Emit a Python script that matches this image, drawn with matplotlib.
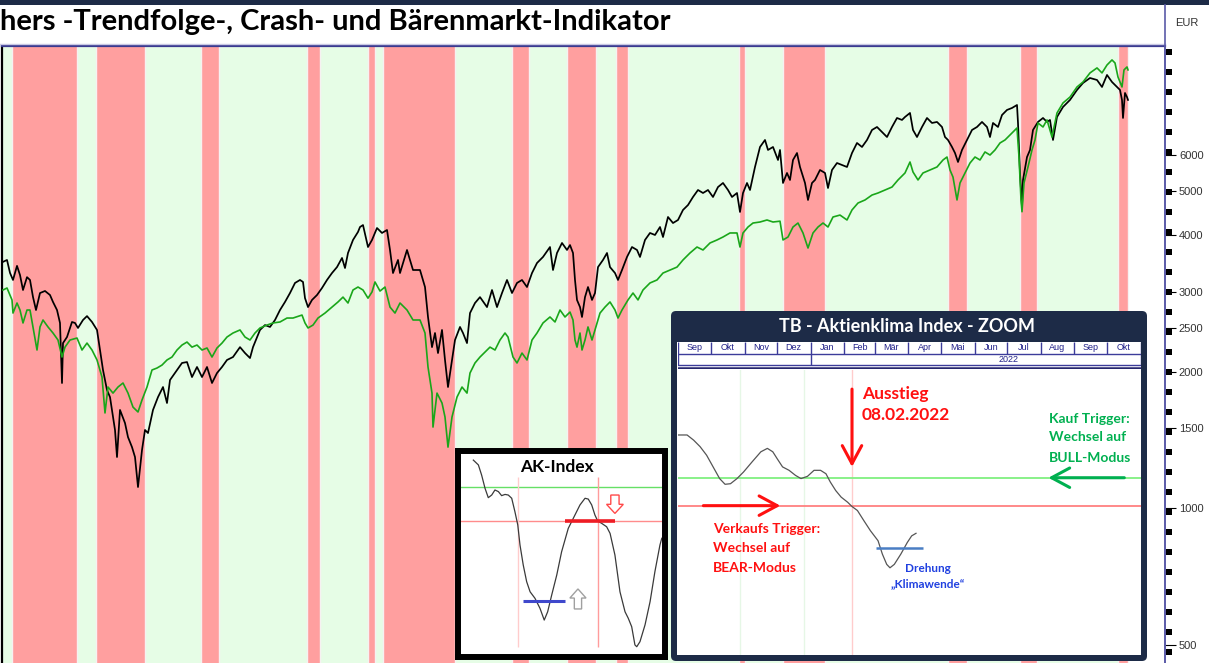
import matplotlib
matplotlib.use("Agg")
import matplotlib.pyplot as plt
import numpy as np
from matplotlib.patches import Rectangle, FancyBboxPatch, FancyArrow

W, H = 1209, 663

# Hauptchart: Kalenderwoche seit Start, Kurs in EUR
black = [(0, 3490), (4, 3524), (7, 3300), (10, 3184), (14, 3420), (17, 3265), (20, 3026),
         (24, 3230), (27, 3184), (30, 2920), (33, 2734), (37, 2980), (42, 3011), (47, 2950),
         (50, 2848), (54, 2734), (57, 2560), (59, 1888), (60, 2312), (64, 2384), (69, 2573),
         (72, 2560), (75, 2496), (80, 2599), (84, 2651), (89, 2573), (94, 2471), (97, 2232),
         (100, 2017), (104, 1822), (107, 1758), (112, 1488), (114, 1297), (117, 1647),
         (122, 1541), (125, 1435), (129, 1364), (132, 1297), (135, 1114), (139, 1344),
         (142, 1488), (145, 1465), (150, 1647), (155, 1758), (160, 1850), (164, 1706),
         (167, 1917), (174, 2017), (179, 2090), (184, 2100), (189, 1946), (194, 2048),
         (199, 1946), (204, 2048), (209, 1888), (214, 1986), (219, 2048), (224, 2122),
         (230, 2154), (237, 2265), (242, 2198), (247, 2143), (250, 2265), (257, 2471),
         (262, 2533), (267, 2509), (272, 2599), (277, 2734), (282, 2848), (287, 2980),
         (292, 3136), (297, 3184), (300, 3152), (302, 2904), (305, 2775), (309, 2877),
         (314, 2950), (319, 3057), (324, 3184), (329, 3298), (334, 3399), (339, 3560),
         (342, 3383), (345, 3651), (350, 3900), (355, 4062), (357, 4165), (360, 4207),
         (365, 3763), (369, 3900), (374, 4144), (379, 4041), (384, 4103), (387, 3707),
         (390, 3298), (395, 3524), (397, 3298), (404, 3707), (410, 3349), (417, 3349),
         (422, 3072), (425, 2639), (429, 2265), (432, 2433), (435, 2198), (439, 2471),
         (442, 2122), (445, 1850), (449, 2122), (452, 2348), (457, 2509), (460, 2433),
         (464, 2312), (467, 2692), (472, 2833), (477, 2919), (484, 2775), (489, 3026),
         (494, 2775), (499, 2980), (504, 3184), (509, 2980), (514, 3136), (519, 3184),
         (524, 3072), (529, 3298), (534, 3470), (540, 3578), (547, 3763), (550, 3349),
         (554, 3651), (559, 3841), (564, 3707), (567, 3801), (570, 3651), (572, 3184),
         (574, 2877), (577, 2775), (579, 2639), (582, 2919), (585, 3072), (589, 2877),
         (592, 2980), (595, 3399), (600, 3524), (604, 3651), (607, 3399), (612, 3298),
         (615, 3184), (619, 3349), (624, 3578), (629, 3763), (634, 3707), (637, 3578),
         (642, 3900), (647, 4041), (652, 4000), (657, 4165), (660, 3959), (665, 4382),
         (670, 4250), (675, 4316), (680, 4541), (685, 4656), (690, 4850), (695, 5025),
         (700, 4949), (705, 5025), (710, 4850), (715, 5101), (720, 5207), (725, 5025),
         (729, 4850), (734, 4949), (737, 4495), (740, 4949), (744, 5207), (747, 5025),
         (752, 5647), (757, 6250), (762, 6476), (765, 6156), (770, 6250), (775, 5851),
         (777, 6156), (780, 5207), (784, 5478), (787, 5287), (790, 5851), (794, 6062),
         (797, 5647), (802, 5207), (805, 4777), (809, 5207), (812, 5287), (817, 5562),
         (822, 5478), (825, 5076), (829, 5562), (834, 5762), (839, 5703), (844, 5647),
         (849, 6062), (854, 6378), (859, 6250), (864, 6476), (869, 6813), (874, 6917),
         (879, 6744), (884, 6574), (889, 6917), (894, 7240), (899, 7168), (902, 7277),
         (907, 7427), (910, 6813), (914, 6574), (919, 6917), (924, 7240), (929, 7059),
         (934, 7096), (939, 6917), (942, 6574), (945, 6476), (949, 6250), (952, 6062),
         (955, 5792), (959, 6156), (964, 6476), (969, 6813), (974, 6917), (979, 7096),
         (984, 6917), (987, 6574), (990, 7059), (995, 6917), (999, 7350), (1004, 7541),
         (1009, 7617), (1014, 7733), (1015, 7059), (1017, 5478), (1019, 4600), (1020, 5287),
         (1024, 5938), (1027, 6156), (1030, 6813), (1035, 7096), (1040, 7240), (1044, 7096),
         (1047, 7168), (1050, 6476), (1054, 7277), (1060, 7656), (1067, 7934), (1074, 8346),
         (1080, 8646), (1087, 8868), (1094, 8779), (1099, 8473), (1104, 9005), (1109, 8690),
         (1114, 8473), (1117, 8346), (1119, 7934), (1120, 7240), (1122, 8219), (1124, 8051),
         (1125, 7934)]

green = [(0, 3026), (4, 3057), (9, 2877), (10, 2692), (14, 2833), (17, 2734), (20, 2560),
         (24, 2734), (27, 2734), (30, 2509), (34, 2232), (37, 2509), (40, 2599), (45, 2509),
         (50, 2433), (55, 2348), (59, 2154), (62, 2265), (67, 2348), (74, 2372), (79, 2232),
         (84, 2312), (89, 2232), (94, 2122), (99, 1946), (102, 1622), (105, 1850), (110, 1794),
         (115, 1850), (120, 1888), (125, 1794), (130, 1671), (135, 1630), (139, 1732),
         (144, 1850), (149, 2017), (154, 2037), (159, 2068), (164, 2122), (169, 2154),
         (174, 2232), (179, 2289), (184, 2324), (189, 2265), (194, 2289), (199, 2232),
         (204, 2255), (209, 2154), (214, 2255), (219, 2312), (224, 2384), (230, 2433),
         (237, 2471), (242, 2384), (247, 2348), (252, 2433), (257, 2496), (264, 2533),
         (270, 2560), (277, 2573), (284, 2625), (290, 2625), (299, 2665), (302, 2560),
         (305, 2496), (310, 2533), (315, 2625), (322, 2692), (329, 2775), (335, 2848),
         (340, 2919), (345, 2833), (350, 3026), (355, 3072), (360, 3026), (365, 2903),
         (369, 2996), (372, 3152), (377, 3010), (382, 3072), (387, 2775), (392, 2692),
         (397, 2833), (404, 2734), (410, 2599), (417, 2599), (422, 2433), (425, 2048),
         (429, 1794), (430, 1510), (434, 1794), (439, 1706), (442, 1589), (445, 1364),
         (449, 1589), (454, 1758), (459, 1850), (464, 1794), (467, 1986), (472, 2090),
         (477, 2154), (482, 2209), (487, 2265), (492, 2232), (497, 2348), (502, 2433),
         (505, 2384), (510, 2154), (514, 2090), (519, 2198), (524, 2122), (529, 2348),
         (534, 2433), (540, 2560), (547, 2639), (552, 2573), (557, 2734), (562, 2639),
         (567, 2706), (570, 2599), (572, 2348), (574, 2265), (577, 2433), (579, 2232),
         (582, 2348), (585, 2509), (589, 2348), (592, 2471), (597, 2692), (602, 2775),
         (607, 2848), (612, 2734), (615, 2625), (619, 2734), (625, 2877), (630, 2980),
         (635, 2877), (640, 3026), (647, 3136), (654, 3184), (660, 3298), (667, 3349),
         (674, 3399), (680, 3524), (687, 3651), (694, 3763), (700, 3707), (707, 3841),
         (714, 3900), (720, 3959), (727, 4041), (734, 4041), (737, 3763), (740, 4041),
         (745, 4165), (750, 4250), (757, 4272), (764, 4316), (770, 4272), (777, 4290),
         (780, 3900), (785, 3959), (790, 4165), (795, 4250), (800, 4041), (805, 3744),
         (810, 4041), (815, 4165), (820, 4250), (825, 4165), (830, 4382), (837, 4425),
         (844, 4316), (849, 4541), (855, 4704), (862, 4777), (869, 4898), (875, 4949),
         (882, 5025), (889, 5101), (895, 5287), (902, 5478), (907, 5792), (910, 5506),
         (915, 5287), (920, 5478), (927, 5562), (934, 5647), (940, 5851), (944, 5940),
         (947, 5562), (950, 5365), (954, 4777), (957, 5207), (962, 5478), (967, 5762),
         (972, 5940), (977, 5851), (982, 6094), (987, 6000), (992, 6156), (997, 6378),
         (1002, 6476), (1007, 6640), (1012, 6813), (1014, 6882), (1016, 5940), (1018, 4777),
         (1019, 4500), (1021, 5207), (1025, 5647), (1029, 6156), (1032, 6476), (1035, 7059),
         (1040, 6917), (1044, 7168), (1049, 6574), (1054, 7427), (1060, 7813), (1067, 8051),
         (1074, 8473), (1080, 8690), (1087, 9099), (1094, 9332), (1099, 9099), (1104, 9472),
         (1109, 9718), (1112, 9570), (1115, 8912), (1119, 8473), (1121, 9239), (1124, 9379),
         (1125, 9239)]

# BEAR-Phasen (rot), Rest = BULL (hellgruen)
data_span = (0, 1125)
bear_phases = [(9, 73.5), (92.7, 142.4), (198, 216), (304, 317), (365, 372), (380, 452),
               (509, 526), (564, 593), (612.5, 625), (736, 742), (780, 821.5),
               (944.6, 964.4), (1017, 1033.5), (1115.4, 1125)]

y_ticks = [500, 1000, 1500, 2000, 2500, 3000, 4000, 5000, 6000]

# AK-Index (kleines Bild)
ak_t = [6.1, 8.6, 10.2, 11.9, 13.5, 15.2, 16.8, 18.5, 20.1, 21.8, 23.4, 25.1, 26.7, 28.1,
        29.2, 30.8, 32.5, 34.2, 36.6, 39.1, 41.2, 42.9, 44.9, 47.4, 49.8, 53.1, 56.4, 58.9,
        61.4, 63.0, 64.7, 66.3, 67.7, 69.6, 72.1, 73.8, 76.2, 78.7, 81.2, 82.8, 84.5, 86.1,
        87.0, 88.6, 91.1, 93.6, 96.0, 98.5, 99.4]
ak_val = [96.0, 93.6, 88.6, 82.0, 77.4, 78.7, 81.2, 80.4, 78.4, 79.0, 78.7, 77.1, 70.4, 63.9,
          54.0, 44.1, 35.8, 30.8, 27.6, 22.6, 16.8, 20.9, 29.2, 39.1, 50.6, 62.2, 68.8, 73.8,
          77.1, 76.7, 73.8, 68.8, 65.8, 64.7, 63.0, 59.7, 49.0, 30.8, 20.9, 17.7, 13.5, 4.5,
          3.6, 6.1, 14.4, 25.9, 40.8, 54.0, 57.3]
ak_bull, ak_bear = 82.7, 65.8
ak_signals = [28.2, 67.8]

# Aktienklima ZOOM
zoom_dates = ["2021-09-01", "2021-09-09", "2021-09-15", "2021-09-21", "2021-09-27",
              "2021-10-03", "2021-10-09", "2021-10-14", "2021-10-19", "2021-10-25",
              "2021-10-31", "2021-11-08", "2021-11-16", "2021-11-22", "2021-11-27",
              "2021-12-01", "2021-12-06", "2021-12-12", "2021-12-18", "2021-12-23",
              "2021-12-29", "2022-01-04", "2022-01-10", "2022-01-15", "2022-01-19",
              "2022-01-24", "2022-01-29", "2022-02-04", "2022-02-08", "2022-02-13",
              "2022-02-19", "2022-02-25", "2022-03-04", "2022-03-08", "2022-03-12",
              "2022-03-15", "2022-03-19", "2022-03-25", "2022-03-31", "2022-04-04",
              "2022-04-08"]
zoom_vals = [77.2, 77.2, 75.4, 73.1, 70.1, 66.0, 61.9, 59.9, 60.1, 61.9, 64.2, 67.8, 71.3,
             72.5, 71.3, 68.9, 66.0, 64.8, 63.0, 61.9, 62.7, 64.8, 64.8, 63.6, 60.7, 57.7,
             55.4, 53.6, 52.1, 50.7, 47.1, 43.6, 40.1, 35.4, 31.8, 30.6, 31.8, 35.4, 39.5,
             41.8, 42.7]
zoom_bull, zoom_bear = 62.2, 52.4
month_names = ["Sep", "Okt", "Nov", "Dez", "Jan", "Feb", "Mär", "Apr", "Mai", "Jun",
               "Jul", "Aug", "Sep", "Okt"]
month_starts = ["2021-09-01", "2021-10-01", "2021-11-01", "2021-12-01", "2022-01-01",
                "2022-02-01", "2022-03-01", "2022-04-01", "2022-05-01", "2022-06-01",
                "2022-07-01", "2022-08-01", "2022-09-01", "2022-10-01", "2022-11-01"]
exit_date = "2022-02-08"

NAVY = "#1d2b47"
LINE = "#3c3c9a"
RED_BAND = "#ff9f9f"
GREEN_BAND = "#e6fde6"


def rect(x0, y0, x1, y1):
    return [x0 / W, 1 - y1 / H, (x1 - x0) / W, (y1 - y0) / H]


def ftext(x, y, s, **kw):
    fig.text(x / W, 1 - y / H, s, **kw)


def D(s):
    return np.datetime64(s)


fig = plt.figure(figsize=(W / 100, H / 100), dpi=100)
fig.patch.set_facecolor("white")

# Kopfzeile
fig.add_artist(Rectangle((0, 1 - 5 / H), 1, 5 / H, transform=fig.transFigure,
                         color=NAVY, lw=0))
ftext(0, 22, "hers -Trendfolge-, Crash- und Bärenmarkt-Indikator", family="Lato",
      fontweight="bold", fontsize=21, va="center", ha="left")
ftext(1187, 23, "EUR", family="Liberation Sans", fontsize=8, color="#333333",
      va="center", ha="center")
fig.add_artist(plt.Line2D([0, 1165 / W], [1 - 44 / H] * 2, color="#c9c9e4", lw=1))
fig.add_artist(plt.Line2D([1165 / W] * 2, [0, 1 - 5 / H], color="#5a5aa8", lw=1.2))

# Hauptchart
ax = fig.add_axes(rect(2, 46, 1165, 663))
ax.set_zorder(0)
ax.set_yscale("log")
ax.set_xlim(-1, 1162)
ax.set_ylim(456.4, 10430)
ax.axvspan(*data_span, color=GREEN_BAND, lw=0, zorder=0)
for a, b in bear_phases:
    ax.axvspan(a, b, color=RED_BAND, lw=0, zorder=0)
for a, b in bear_phases:
    ax.axvline(a, color="#f6f1f1", lw=1, zorder=0.5)
    ax.axvline(b, color="#f6f1f1", lw=1, zorder=0.5)

bw, be = zip(*black)
gw, ge = zip(*green)
ax.plot(bw, be, color="black", lw=1.25, zorder=2)
ax.plot(gw, ge, color="#1aa61a", lw=1.2, zorder=3)

ax.spines["bottom"].set_visible(False)
ax.spines["left"].set_color("black")
ax.spines["left"].set_linewidth(1.6)
ax.spines["top"].set_color("#3a3a90")
ax.spines["top"].set_linewidth(1.6)
ax.spines["right"].set_color("#5a5aa8")
ax.spines["right"].set_linewidth(1.2)
ax.set_xticks([])
ax.yaxis.tick_right()
ax.set_yticks(y_ticks)
ax.set_yticklabels([str(v) for v in y_ticks])
ax.yaxis.set_minor_locator(matplotlib.ticker.NullLocator())
ax.tick_params(axis="y", direction="out", length=8, width=0.8, pad=2,
               labelsize=8, labelcolor="#333333")
for lab in ax.get_yticklabels():
    lab.set_family("Liberation Sans")

# Lineal an der Preisachse
ax_r = fig.add_axes(rect(1165.6, 47, 1171.6, 663))
ax_r.set_zorder(1)
ax_r.set_xlim(0, 1)
ax_r.set_ylim(616, 0)
ax_r.axis("off")
for i, y0 in enumerate(range(2, 616, 10)):
    if i % 2 == 0:
        ax_r.add_patch(Rectangle((0, y0), 1, 6, color="black", lw=0))

# AK-Index Bild
ax_ak = fig.add_axes(rect(458, 451, 665, 657))
ax_ak.set_zorder(2)
ax_ak.set_xlim(-1.49, 100.99)
ax_ak.set_ylim(-1.49, 100.5)
ax_ak.set_xticks([])
ax_ak.set_yticks([])
for s in ax_ak.spines.values():
    s.set_color("black")
    s.set_linewidth(4.3)
ax_ak.axhline(ak_bull, color="#66e066", lw=1.0)
ax_ak.axhline(ak_bear, color="#ff8c8c", lw=1.0)
ax_ak.vlines(ak_signals[0], 3.5, 87.6, color="#ffcccc", lw=1.0)
ax_ak.vlines(ak_signals[1], 3.5, 87.6, color="#ff9c9c", lw=1.0)
ax_ak.plot(ak_t, ak_val, color="#3a3a3a", lw=0.9)
ax_ak.hlines(ak_bear, 51.5, 76.2, color="#ee1c24", lw=2.6)
ax_ak.hlines(26.4, 30.7, 51.5, color="#3f48cc", lw=2.2)
ax_ak.add_patch(FancyArrow(76.2, 78.7, 0, -9.1, width=4.1, head_width=8.3, head_length=4.5,
                           length_includes_head=True, fc="white", ec="#ff4a4a", lw=1))
ax_ak.add_patch(FancyArrow(57.9, 22.3, 0, 9.9, width=3.6, head_width=8.0, head_length=4.5,
                           length_includes_head=True, fc="white", ec="#a0a0a0", lw=1))
ax_ak.text(47.5, 92.6, "AK-Index", family="Lato", fontweight="bold", fontsize=12.5,
           ha="center", va="center")

# ZOOM Bild: Rahmen
fig.add_artist(FancyBboxPatch((671 / 100, (H - 661) / 100), 476 / 100, 350 / 100,
                              boxstyle="round,pad=0,rounding_size=0.05",
                              transform=fig.dpi_scale_trans, fc=NAVY, ec="none",
                              zorder=0.5))
fig.add_artist(Rectangle((677 / 100, (H - 655) / 100), 464 / 100, 313 / 100,
                         transform=fig.dpi_scale_trans, fc="white", ec="none", zorder=0.6))
ftext(907, 326, "TB - Aktienklima Index - ZOOM", family="Lato", fontweight="bold",
      fontsize=13, color="white", ha="center", va="center")

x0, x1 = D(month_starts[0]), D(month_starts[-1])
ax_h = fig.add_axes(rect(678.4, 342, 1140.6, 369))
ax_h.set_zorder(2)
ax_h.set_xlim(x0, x1)
ax_h.set_ylim(0, 1)
ax_h.axis("off")
starts = [D(s) for s in month_starts]
ax_h.vlines(starts, 0.574, 1.0, color=LINE, lw=1)
ax_h.vlines([starts[0], D("2022-01-01"), starts[-1]], 0.133, 0.574, color=LINE, lw=1)
ax_h.axhline(0.574, color=LINE, lw=1)
ax_h.axhline(0.133, color=LINE, lw=1)
ax_h.axhline(0.02, color="#26266e", lw=1.8)
for name, a, b in zip(month_names, starts[:-1], starts[1:]):
    ax_h.text(a + (b - a) / 2, 0.79, name, family="Liberation Sans", fontsize=6.5,
              color="#22228a", ha="center", va="center")
ax_h.text(D("2022-07-02"), 0.35, "2022", family="Liberation Sans", fontsize=6.5,
          color="#22228a", ha="center", va="center")

ax_z = fig.add_axes(rect(678.4, 370, 1140.6, 655))
ax_z.set_zorder(2)
ax_z.set_xlim(x0, x1)
ax_z.set_ylim(0, 100)
ax_z.axis("off")
ax_z.axvline(D("2021-10-28"), color="#e6f7e6", lw=1)
ax_z.axvline(D("2021-12-26"), color="#e6f7e6", lw=1)
ax_z.axvline(D(exit_date), color="#ffcccc", lw=1)
ax_z.axhline(zoom_bull, color="#80f080", lw=1.3)
ax_z.axhline(zoom_bear, color="#ff8080", lw=1.3)
ax_z.plot(np.array(zoom_dates, dtype="datetime64[D]"), zoom_vals, color="#555555", lw=0.9)
ax_z.hlines(37.7, D("2022-03-02"), D("2022-04-14"), color="#4a7ec4", lw=1.8)

arrow = dict(arrowstyle="->,head_length=1.3,head_width=0.7", lw=2.2,
             shrinkA=0, shrinkB=0, mutation_scale=10)
ax_z.annotate("", xy=(D(exit_date), 66.0), xytext=(D(exit_date), 93.3),
              arrowprops=dict(color="#ff1010", **arrow))
ax_z.annotate("", xy=(D("2021-12-04"), zoom_bear), xytext=(D("2021-09-24"), zoom_bear),
              arrowprops=dict(color="#ff1010", **arrow))
ax_z.annotate("", xy=(D("2022-08-08"), zoom_bull), xytext=(D("2022-10-17"), zoom_bull),
              arrowprops=dict(color="#00b050", **arrow))

red_kw = dict(family="Lato", fontweight="bold", color="#ff1010", ha="left", va="center")
grn_kw = dict(family="Lato", fontweight="bold", color="#00b050", ha="left", va="center")
blu_kw = dict(family="Lato", fontweight="bold", color="#2040e0", ha="center", va="center")
ftext(862, 394, "Ausstieg", fontsize=12.5, **red_kw)
ftext(862, 415, "08.02.2022", fontsize=12.5, **red_kw)
ftext(713, 529, "Verkaufs Trigger:", fontsize=10, **red_kw)
ftext(713, 548, "Wechsel auf", fontsize=10, **red_kw)
ftext(713, 568, "BEAR-Modus", fontsize=10, **red_kw)
ftext(1049, 419, "Kauf Trigger:", fontsize=10, **grn_kw)
ftext(1049, 437, "Wechsel auf", fontsize=10, **grn_kw)
ftext(1049, 458, "BULL-Modus", fontsize=10, **grn_kw)
ftext(928, 568, "Drehung", fontsize=8.5, **blu_kw)
ftext(928, 584, "\u201eKlimawende\u201c", fontsize=8.5, **blu_kw)

fig.savefig("out.png", dpi=100)
